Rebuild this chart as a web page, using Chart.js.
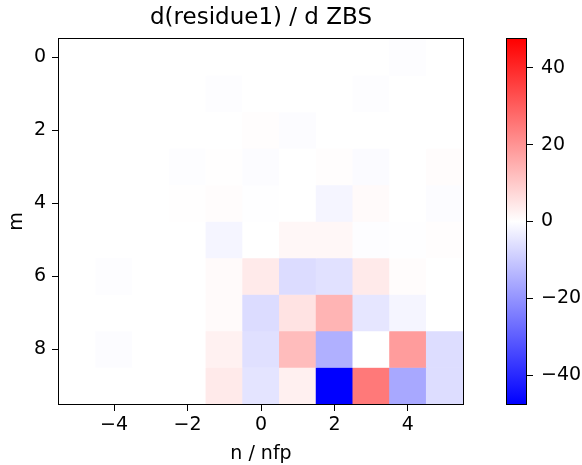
<!DOCTYPE html>
<html>
<head>
<meta charset="utf-8">
<script src="https://cdn.jsdelivr.net/npm/chart.js@4/dist/chart.umd.min.js"></script>
<style>
    html, body { margin: 0; padding: 0; background: #fff; }
    #wrap { position: relative; width: 582px; height: 465px; overflow: hidden; }
    #heat { position: absolute; left: 0; top: 0; }
    #cbar { position: absolute; left: 482px; top: 0; }
</style>
</head>
<body>
<div id="wrap">
    <canvas id="heat" width="582" height="465"></canvas>
    <canvas id="cbar" width="100" height="465"></canvas>
</div>
<script>
// ---- data ----
const nValues = [-5, -4, -3, -2, -1, 0, 1, 2, 3, 4, 5];
const mValues = [0, 1, 2, 3, 4, 5, 6, 7, 8, 9];
// one row per m, one entry per n
const dZ = [
    [0, 0, 0, 0, 0, 0, 0, 0, 0, -0.4, 0],
    [0, 0, 0, 0, -0.3, 0, 0, 0, -0.3, 0, 0],
    [0, 0, 0, 0, 0, 0.4, -0.5, 0, 0, 0, 0],
    [0, 0, 0, -0.3, 0.2, -0.6, 0, 0.4, -0.7, 0, 0.5],
    [0, 0, 0, 0.1, 0.5, -0.2, 0, -1.8, 1.0, 0, -0.5],
    [0, 0, 0, 0, -1.9, 0, 1.4, 1.4, -0.4, -0.2, 0.4],
    [0, -0.3, 0, 0, 0.9, 4.0, -6.5, -5.5, 4.0, 0.5, 0],
    [0, 0, 0, 0, 0.9, -6.5, 5.2, 14.0, -4.7, -1.8, 0],
    [0, -0.5, 0, 0, 2.6, -5.8, 12.5, -14.7, 0, 18.4, -6.3],
    [0, 0, 0, 0, 4.0, -5.0, 2.8, -47.5, 25.0, -16.2, -6.3]
];
const xTicks = [-4, -2, 0, 2, 4];
const yTicks = [0, 2, 4, 6, 8];
const cTicks = [-40, -20, 0, 20, 40];
const vMin = -47.5;
const vMax = 47.5;

const FONT = "'DejaVu Sans', sans-serif";
const TICK_SIZE = 19;
const minus = v => v < 0 ? '\u2212' + Math.abs(v) : String(v);

// matplotlib 'bwr'
function bwr(v) {
    let t = (v - vMin) / (vMax - vMin);
    t = Math.max(0, Math.min(1, t));
    let r, g, b;
    if (t < 0.5) {
        const k = t / 0.5;
        r = 255 * k; g = 255 * k; b = 255;
    } else {
        const k = (t - 0.5) / 0.5;
        r = 255; g = 255 * (1 - k); b = 255 * (1 - k);
    }
    return `rgb(${Math.round(r)},${Math.round(g)},${Math.round(b)})`;
}

const frame = {
    id: 'frame',
    afterDatasetsDraw(chart) {
        const { ctx, chartArea: a } = chart;
        ctx.save();
        ctx.strokeStyle = '#000';
        ctx.lineWidth = 1;
        ctx.strokeRect(Math.round(a.left) - 0.5, Math.round(a.top) - 0.5,
            Math.round(a.right - a.left) + 1, Math.round(a.bottom - a.top) + 1);
        ctx.restore();
    }
};

const tickGrid = { offset: false, drawOnChartArea: false, tickLength: 7, tickColor: '#000', tickWidth: 1 };

// ---- heatmap ----
const rowSets = mValues.map((m, i) => ({
    data: nValues.map(n => ({ x: n, y: [m - 0.5, m + 0.5] })),
    backgroundColor: dZ[i].map(bwr),
    borderWidth: 0,
    barPercentage: 1,
    categoryPercentage: 1,
    grouped: false
}));

new Chart(document.getElementById('heat'), {
    type: 'bar',
    data: { datasets: rowSets },
    options: {
        responsive: false,
        devicePixelRatio: 1,
        animation: false,
        layout: { padding: { left: 0, right: 119, top: 0, bottom: 0 } },
        plugins: {
            legend: { display: false },
            tooltip: { enabled: false },
            title: {
                display: true,
                text: 'd(residue1) / d ZBS',
                fullSize: false,
                color: '#000',
                font: { family: FONT, size: 23, weight: 'normal', lineHeight: 1.2 },
                padding: { top: 4, bottom: 7.4 }
            }
        },
        scales: {
            x: {
                type: 'linear',
                min: -5.5,
                max: 5.5,
                offset: false,
                afterBuildTicks: s => { s.ticks = xTicks.map(v => ({ value: v })); },
                afterFit: s => { s.height = 61; },
                grid: tickGrid,
                border: { display: false },
                ticks: {
                    color: '#000', padding: 3, maxRotation: 0,
                    font: { family: FONT, size: TICK_SIZE },
                    callback: v => minus(v)
                },
                title: {
                    display: true, text: 'n / nfp', color: '#000',
                    font: { family: FONT, size: TICK_SIZE, lineHeight: 1.2 },
                    padding: { top: 0, bottom: 0 }
                }
            },
            y: {
                type: 'linear',
                reverse: true,
                min: -0.5,
                max: 9.5,
                afterBuildTicks: s => { s.ticks = yTicks.map(v => ({ value: v })); },
                afterFit: s => { s.width = 59; },
                grid: tickGrid,
                border: { display: false },
                ticks: {
                    color: '#000', padding: 6,
                    font: { family: FONT, size: TICK_SIZE },
                    callback: v => minus(v)
                },
                title: {
                    display: true, text: 'm', color: '#000',
                    font: { family: FONT, size: TICK_SIZE, lineHeight: 1.2 },
                    padding: { top: 6, bottom: 0 }
                }
            }
        }
    },
    plugins: [frame]
});

// ---- colorbar ----
new Chart(document.getElementById('cbar'), {
    type: 'bar',
    data: {
        labels: [''],
        datasets: [{
            data: [[vMin, vMax]],
            borderWidth: 0,
            barPercentage: 1,
            categoryPercentage: 1,
            backgroundColor: c => {
                const a = c.chart.chartArea;
                if (!a) return '#fff';
                const g = c.chart.ctx.createLinearGradient(0, a.bottom, 0, a.top);
                g.addColorStop(0, 'rgb(0,0,255)');
                g.addColorStop(0.5, 'rgb(255,255,255)');
                g.addColorStop(1, 'rgb(255,0,0)');
                return g;
            }
        }]
    },
    options: {
        responsive: false,
        devicePixelRatio: 1,
        animation: false,
        layout: { padding: { left: 25, right: 0, top: 39, bottom: 61 } },
        plugins: { legend: { display: false }, tooltip: { enabled: false } },
        scales: {
            x: { display: false },
            y: {
                position: 'right',
                min: vMin,
                max: vMax,
                afterBuildTicks: s => { s.ticks = cTicks.map(v => ({ value: v })); },
                afterFit: s => { s.width = 56; },
                grid: tickGrid,
                border: { display: false },
                ticks: {
                    color: '#000', padding: 8,
                    font: { family: FONT, size: TICK_SIZE },
                    callback: v => minus(v)
                }
            }
        }
    },
    plugins: [frame]
});
</script>
</body>
</html>
